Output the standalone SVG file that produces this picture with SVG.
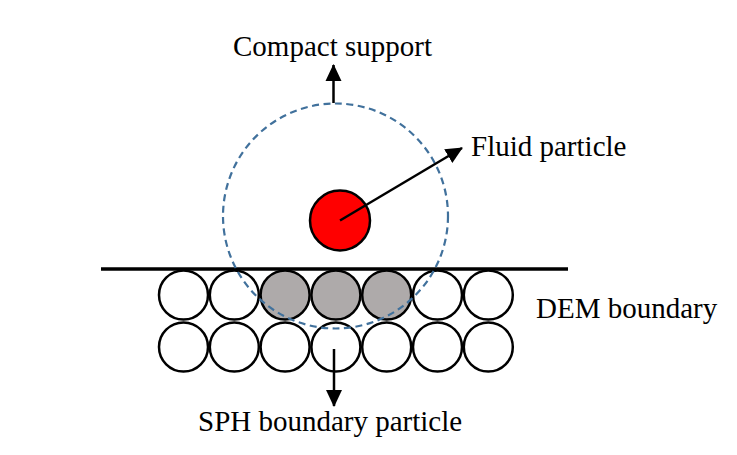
<svg xmlns="http://www.w3.org/2000/svg" width="737" height="455" viewBox="0 0 737 455">
<style>
.t{font-family:"Liberation Serif","Times New Roman",serif;font-size:29px;fill:#000}
.p{fill:#fff;stroke:#000;stroke-width:2.5}
.g{fill:#AEAAAA;stroke:#000;stroke-width:2.5}
.c{stroke:#000;stroke-width:2.5;fill:none}
</style>
<defs>
<marker id="ah" markerUnits="userSpaceOnUse" markerWidth="18" markerHeight="18" viewBox="0 0 18 18" refX="16" refY="9" orient="auto">
<path d="M0,1 L17,9 L0,17 Z" fill="#000"/>
</marker>
</defs>
<rect width="737" height="455" fill="#fff"/>
<g id="boundary-line">
<line x1="101" y1="269" x2="568" y2="269" stroke="#000" stroke-width="3.5"/>
</g>
<g id="dem-row1">
<circle class="p" cx="183.5" cy="295" r="24.5"/>
<circle class="p" cx="234.3" cy="295" r="24.5"/>
<circle class="g" cx="285.1" cy="295" r="24.5"/>
<circle class="g" cx="335.9" cy="295" r="24.5"/>
<circle class="g" cx="386.7" cy="295" r="24.5"/>
<circle class="p" cx="437.5" cy="295" r="24.5"/>
<circle class="p" cx="488.3" cy="295" r="24.5"/>
</g>
<g id="dem-row2">
<circle class="p" cx="183.5" cy="347" r="24.5"/>
<circle class="p" cx="234.3" cy="347" r="24.5"/>
<circle class="p" cx="285.1" cy="347" r="24.5"/>
<circle class="p" cx="335.9" cy="347" r="24.5"/>
<circle class="p" cx="386.7" cy="347" r="24.5"/>
<circle class="p" cx="437.5" cy="347" r="24.5"/>
<circle class="p" cx="488.3" cy="347" r="24.5"/>
</g>
<g id="compact-support">
<circle cx="335.5" cy="216" r="112.5" fill="none" stroke="#41719C" stroke-width="2.2" stroke-dasharray="7,4.5"/>
</g>
<g id="fluid-particle">
<circle cx="340" cy="220.5" r="30" fill="#FF0000" stroke="#000" stroke-width="2.5"/>
</g>
<g id="connectors">
<line class="c" x1="333.5" y1="103" x2="333.5" y2="65" marker-end="url(#ah)"/>
<line class="c" x1="340" y1="220.5" x2="462" y2="148" marker-end="url(#ah)"/>
<line class="c" x1="334" y1="349" x2="334" y2="406" marker-end="url(#ah)"/>
</g>
<g id="labels">
<text class="t" x="233" y="56">Compact support</text>
<text class="t" x="471" y="156">Fluid particle</text>
<text class="t" x="536" y="318">DEM boundary</text>
<text class="t" x="198" y="431">SPH boundary particle</text>
</g>
</svg>
